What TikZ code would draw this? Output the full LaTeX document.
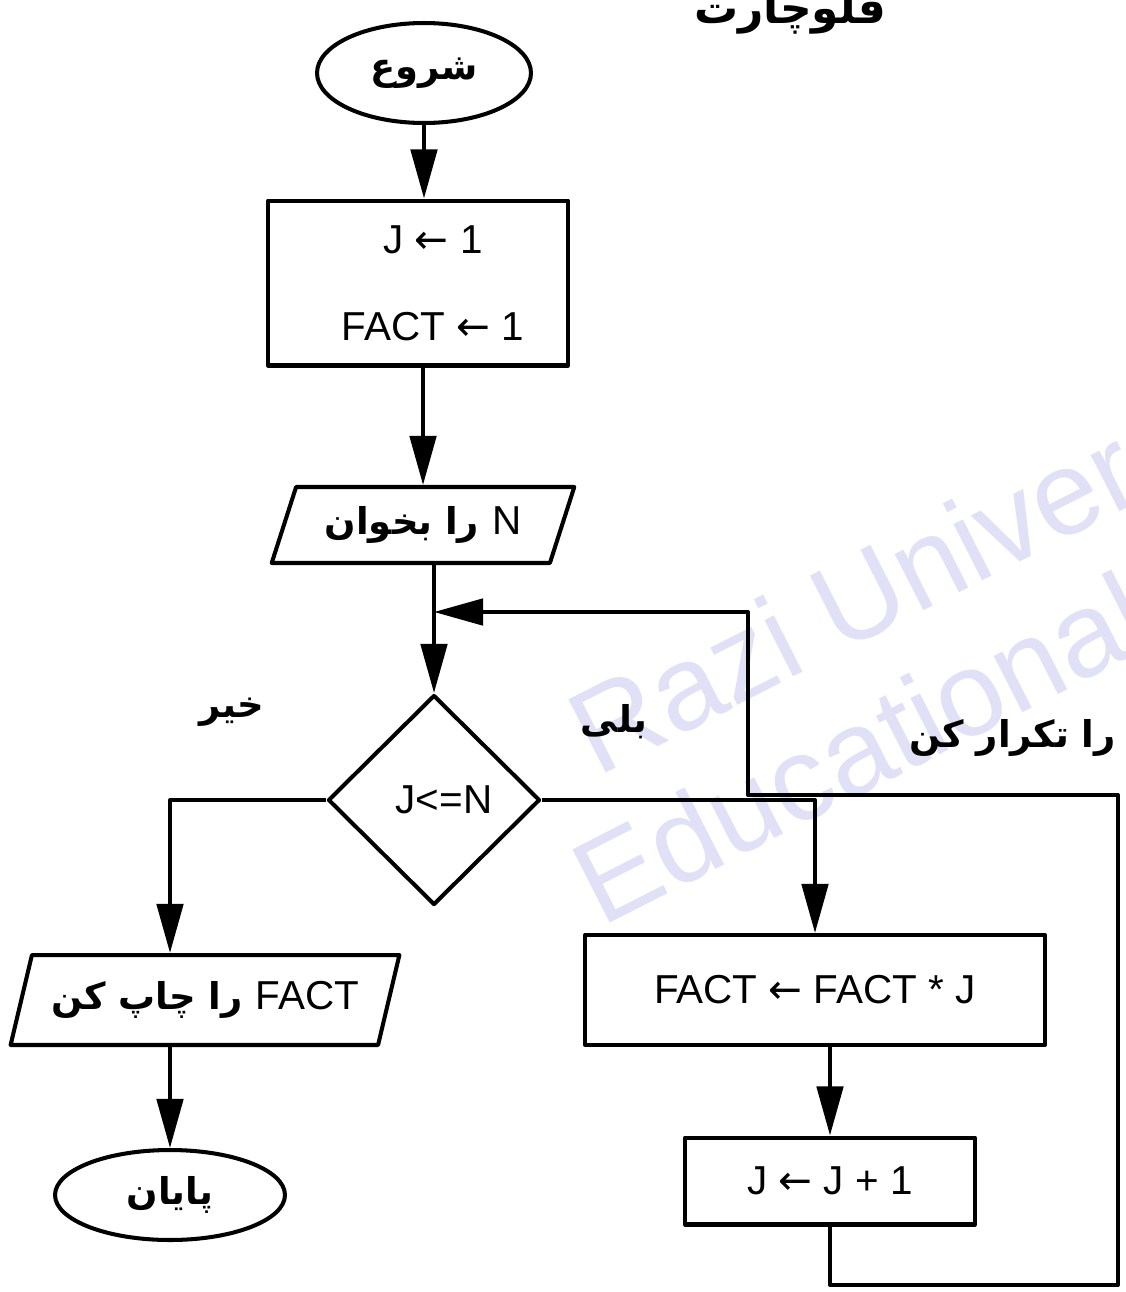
\documentclass[tikz,border=0pt]{standalone}
\usepackage{fontspec}
\setmainfont{Liberation Sans}
\newfontfamily\fa[Script=Arabic]{DejaVu Sans}
\newfontfamily\symf{DejaVu Sans}
\newfontfamily\lat{Liberation Sans}
\TeXXeTstate=1
\usetikzlibrary{arrows.meta,shapes.geometric}
\newcommand\larr{{\symf ←}}
\definecolor{wmark}{RGB}{224,224,246}

\tikzset{
  every node/.style={font=\fontsize{23}{28}\selectfont},
  stroke/.style={line width=2.3pt, line join=round},
  flow/.style={stroke, -{Triangle[length=28pt,width=15pt]}},
  stepbox/.style={draw, stroke, rectangle, inner sep=0pt},
  term/.style={draw, stroke, ellipse, inner sep=0pt},
  io/.style={draw, stroke, trapezium, trapezium left angle=63,
    trapezium right angle=117, trapezium stretches=true, inner sep=0pt},
  cond/.style={draw, stroke, diamond, inner sep=0pt},
  fatext/.style={font=\fa\bfseries\fontsize{21}{26}\selectfont},
  wmtext/.style={text=wmark, font=\fontsize{68}{80}\selectfont,
    anchor=base west, rotate=27},
}

\begin{document}
\begin{tikzpicture}[x=0.02cm,y=-0.02cm]
\fill[white] (0,0) rectangle (1126,1292);
\useasboundingbox (0,0) rectangle (1126,1292);

% watermark
\node[wmtext] (wm1) at (592,780) {Razi University};
\node[wmtext] (wm2) at (596,930) {Educational};

% title
\node[fatext, font=\fa\bfseries\fontsize{25}{30}\selectfont, anchor=base] (title) at (790,23) {\beginR فلوچارت\endR};

% blocks
\node[term, minimum width=4.28cm, minimum height=2cm, fatext] (start) at (424,73) {\beginR شروع\endR};
\node[stepbox, minimum width=6cm, minimum height=3.3cm, align=center] (init) at (418,283)
  {\hspace*{0.6cm}J \larr{} 1\\[0.75cm]\hspace*{0.6cm}FACT \larr{} 1};
\node[io, minimum width=6.06cm, minimum height=1.52cm, fatext] (readn) at (423,525)
  {\beginR{\lat\mdseries\fontsize{23}{28}\selectfont N} را بخوان\endR};
\node[cond, minimum width=4.24cm, minimum height=4.2cm] (test) at (434,800) {\hspace*{0.4cm}J<=N};
\node[io, minimum width=7.8cm, minimum height=1.8cm, fatext] (outp) at (205,1000)
  {\beginR\beginL{\lat\mdseries\fontsize{23}{28}\selectfont FACT}\endL{} را چاپ کن\endR};
\node[term, minimum width=4.6cm, minimum height=1.8cm, fatext] (stop) at (170,1195) {\beginR پایان\endR};
\node[stepbox, minimum width=9.2cm, minimum height=2.2cm] (mult) at (815,990) {FACT \larr{} FACT * J};
\node[stepbox, minimum width=5.8cm, minimum height=1.74cm] (incr) at (830,1181) {J \larr{} J + 1};

% labels
\node[fatext] (no) at (232,712) {\beginR خیر\endR};
\node[fatext] (yes) at (614,722) {\beginR بلی\endR};
\node[fatext, anchor=east] (rep) at (1122,738) {\beginR را تکرار کن\endR};

% loop corners
\coordinate (join) at (test.north |- 0,612);
\coordinate (c1) at (1118,1285);
\coordinate (c2) at (1118,795);
\coordinate (c3) at (748,795);
\coordinate (c4) at (748,612);

% connectors
\draw[flow] (start.south) -- (start.south |- init.north);
\draw[flow] (init.south -| readn.north) -- (readn.north);
\draw[flow] (readn.south -| test.north) -- (test.north);
\draw[flow] (test.west) -| (stop.north |- outp.north);
\draw[flow] (stop.north |- outp.south) -- (stop.north);
\draw[flow] (test.east) -| (mult.north);
\draw[flow] (mult.south -| incr.north) -- (incr.north);
\draw[flow] (incr.south) |- (c1) -- (c2) -- (c3) -- (c4) -- (join);
\end{tikzpicture}
\end{document}
